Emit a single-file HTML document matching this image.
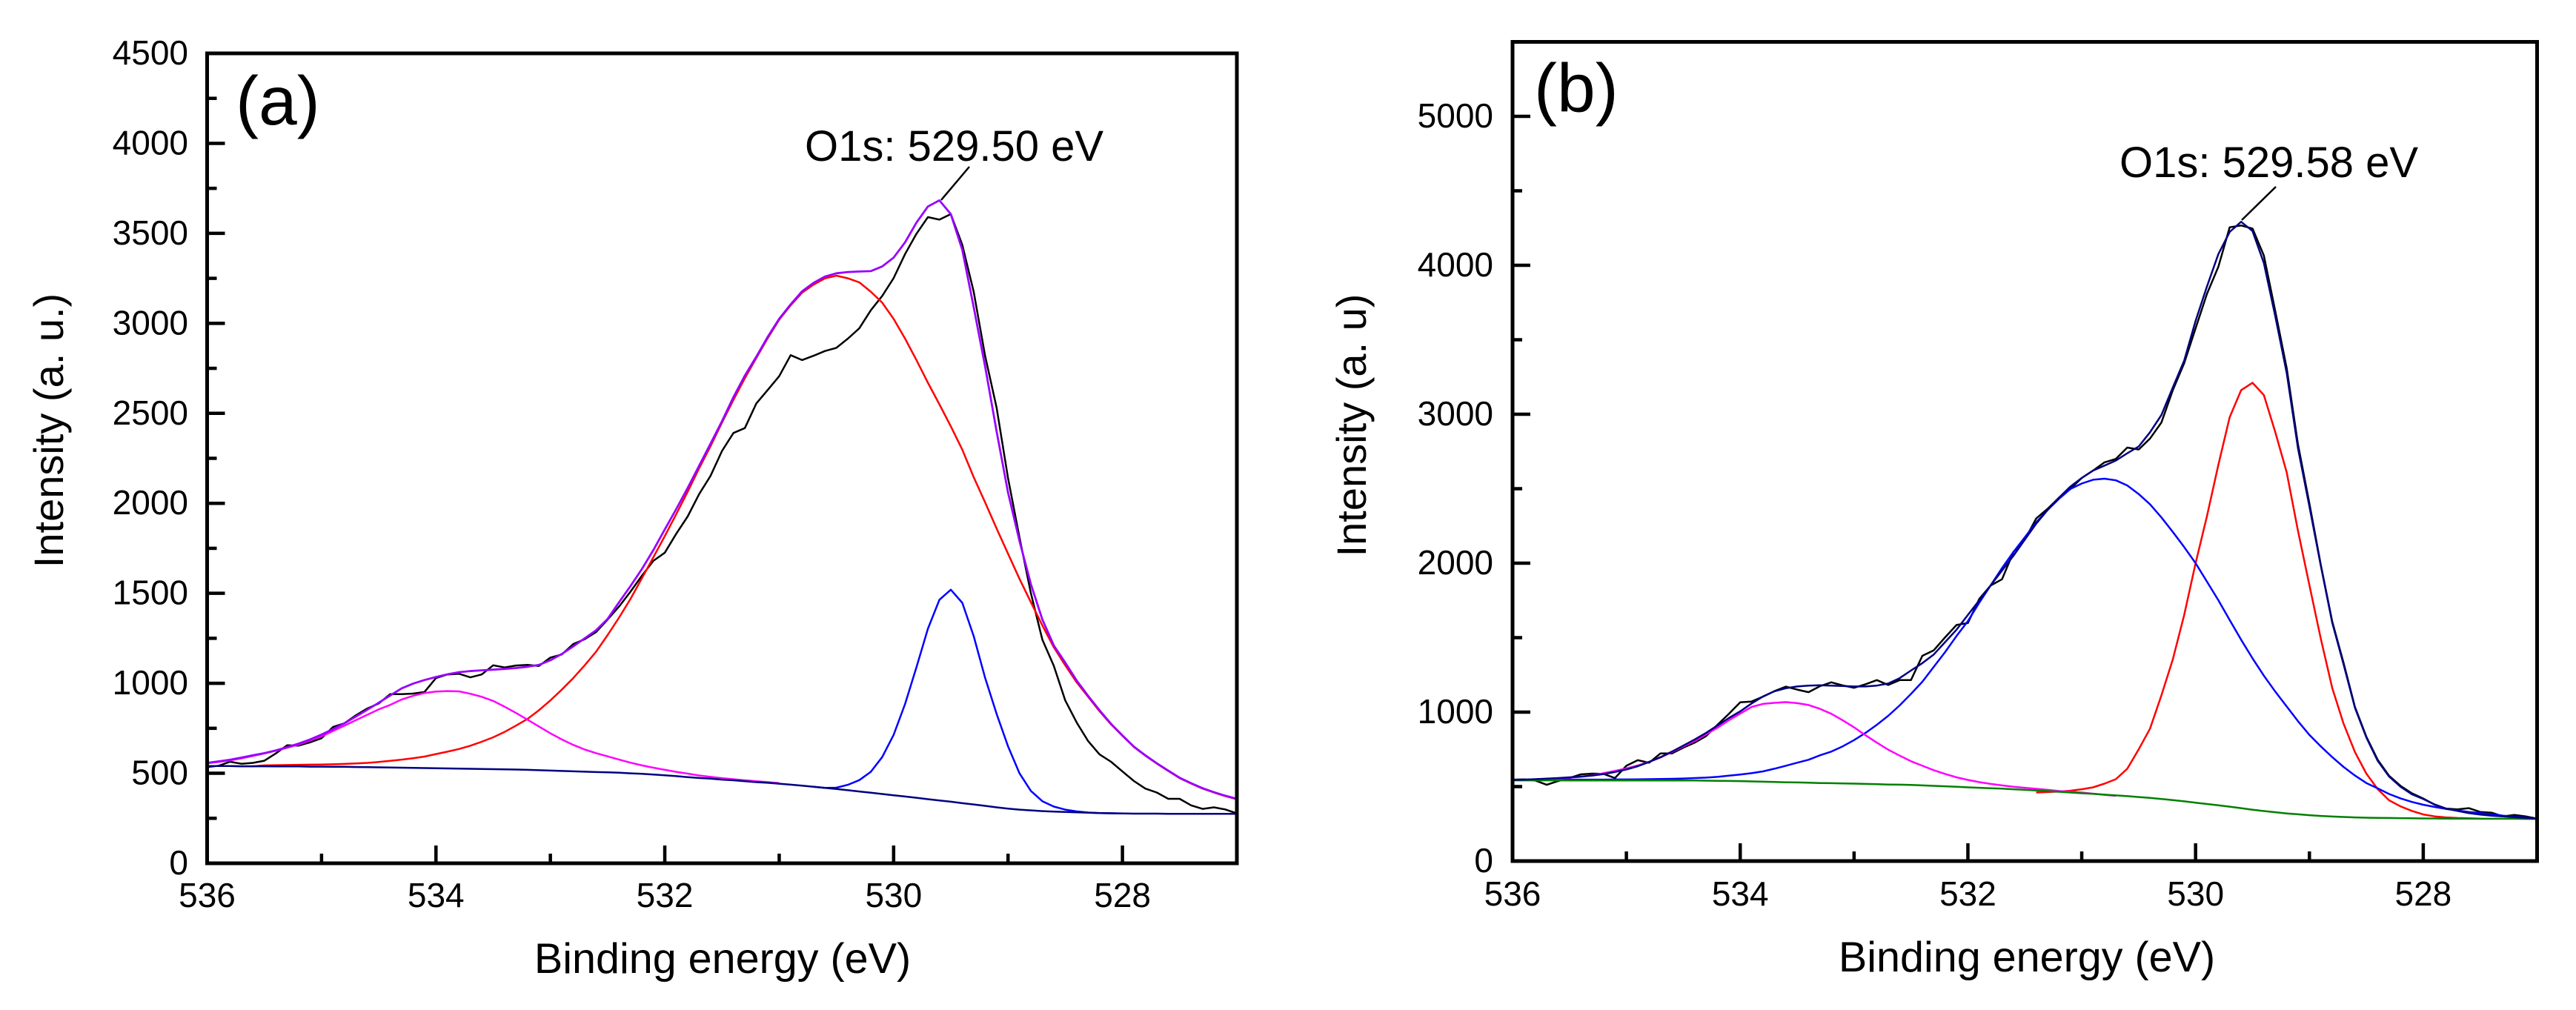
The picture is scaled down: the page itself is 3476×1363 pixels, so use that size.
<!DOCTYPE html>
<html lang="en">
<head>
<meta charset="utf-8">
<title>O1s XPS spectra</title>
<style>
html,body{margin:0;padding:0;background:#fff;width:3476px;height:1363px;overflow:hidden}
svg{display:block}
text{font-family:"Liberation Sans",Arial,sans-serif;fill:#000}
</style>
</head>
<body>
<svg id="figure" xmlns="http://www.w3.org/2000/svg" width="3476" height="1363" viewBox="0 0 3476 1363">
  <rect width="3476" height="1363" fill="#fff"/>
  <g id="panel-a">
    <text x="318" y="168" font-size="93">(a)</text>
    <text x="1086" y="217" font-size="58">O1s: 529.50 eV</text>
    <line x1="1308" y1="225" x2="1270" y2="270" stroke="#000" stroke-width="2.5"/>
    <text x="975" y="1313" font-size="57.5" text-anchor="middle">Binding energy (eV)</text>
    <text transform="translate(85 581) rotate(-90)" font-size="56" text-anchor="middle">Intensity (a. u.)</text>
  </g>
  <g id="panel-b">
    <text x="2070" y="151" font-size="93">(b)</text>
    <text x="2860" y="239" font-size="58">O1s: 529.58 eV</text>
    <line x1="3071" y1="252" x2="3025" y2="297" stroke="#000" stroke-width="2.5"/>
    <text x="2735" y="1311" font-size="57.5" text-anchor="middle">Binding energy (eV)</text>
    <text transform="translate(1843 574) rotate(-90)" font-size="56" text-anchor="middle">Intensity (a. u)</text>
  </g>
</svg>
<script>
// Shared binding-energy grid (eV)
const energy = [
536.0,535.9,535.8,535.7,535.6,535.5,535.4,535.3,535.2,535.1,
535.0,534.9,534.8,534.7,534.6,534.5,534.4,534.3,534.2,534.1,
534.0,533.9,533.8,533.7,533.6,533.5,533.4,533.3,533.2,533.1,
533.0,532.9,532.8,532.7,532.6,532.5,532.4,532.3,532.2,532.1,
532.0,531.9,531.8,531.7,531.6,531.5,531.4,531.3,531.2,531.1,
531.0,530.9,530.8,530.7,530.6,530.5,530.4,530.3,530.2,530.1,
530.0,529.9,529.8,529.7,529.6,529.5,529.4,529.3,529.2,529.1,
529.0,528.9,528.8,528.7,528.6,528.5,528.4,528.3,528.2,528.1,
528.0,527.9,527.8,527.7,527.6,527.5,527.4,527.3,527.2,527.1,
527.0];

// Tick labels
const xMajorTicks = [536,534,532,530,528];
const xMinorTicks = [535,533,531,529];
const yMajorTicksA = [0,500,1000,1500,2000,2500,3000,3500,4000,4500];
const yMinorTicksA = [250,750,1250,1750,2250,2750,3250,3750,4250];
const yMajorTicksB = [0,1000,2000,3000,4000,5000];
const yMinorTicksB = [500,1500,2500,3500,4500];

// Panel (a) series
const measuredA = [
535,542,564,553,558,570,610,656,654,672,
695,757,778,822,860,888,940,940,943,952,
1029,1049,1053,1033,1049,1100,1088,1099,1102,1096,
1143,1160,1218,1245,1285,1354,1426,1509,1598,1680,
1726,1831,1927,2051,2153,2291,2391,2418,2555,2630,
2706,2823,2796,2820,2846,2864,2915,2972,3072,3152,
3251,3385,3498,3590,3576,3607,3436,3175,2819,2531,
2140,1810,1500,1243,1097,905,782,679,605,564,
510,457,415,393,358,358,322,302,311,299,
277];
const envelopeA = [
558,566,575,587,600,612,627,645,665,688,
715,745,778,815,853,892,932,972,998,1018,
1035,1050,1062,1068,1072,1076,1080,1085,1092,1102,
1128,1163,1205,1250,1295,1358,1450,1540,1635,1740,
1855,1968,2085,2209,2332,2457,2590,2710,2815,2925,
3025,3105,3178,3225,3260,3278,3285,3288,3290,3316,
3365,3450,3560,3649,3683,3607,3408,3090,2760,2400,
2060,1790,1550,1355,1210,1115,1015,930,850,775,
710,648,600,556,515,475,445,417,395,375,
358];
const broadPeakA = [
540,540,540,539,539,544,545,546,547,548,
549,550,552,555,558,563,569,576,584,593,
607,620,635,653,675,700,730,765,802,850,
905,965,1029,1100,1176,1268,1365,1468,1584,1700,
1818,1940,2064,2195,2318,2449,2575,2695,2808,2918,
3020,3100,3170,3215,3250,3265,3250,3228,3176,3115,
3025,2915,2795,2670,2550,2428,2298,2145,2005,1860,
1720,1580,1450,1322,1200,1100,1005,925,845,772,
708,646,598,554,513,473,443,415,393,373,
356];
const highEnergyPeakA = [
556,563,572,583,596,610,625,642,660,682,
705,735,765,795,825,855,880,910,930,946,
954,957,955,942,925,902,870,835,798,760,
722,688,658,632,612,594,576,559,544,531,
519,508,498,488,480,473,467,461,456,451,
446];
const latticePeakStartA = 530.7;
const latticePeakA = [
425,419,420,436,462,508,590,
713,885,1090,1303,1464,1520,1447,1262,1030,830,
650,500,402,345,315,298,288,282,279,278,
277];
const baselineA = [
540,540,540,539,539,539,538,538,538,537,
537,536,536,535,534,533,532,531,530,529,
528,527,526,525,524,523,522,521,519,517,
515,513,511,509,507,505,503,500,497,493,
489,484,479,474,470,465,461,456,451,447,
442,437,431,425,419,413,406,399,392,385,
378,371,364,356,349,342,334,327,319,311,
304,298,294,290,287,285,283,281,279,278,
277,276,276,276,275,275,275,275,275,275,
275];

// Panel (b) series
const measuredB = [
547,549,541,512,537,557,582,587,585,557,
640,677,660,723,723,761,795,839,915,988,
1066,1071,1104,1141,1171,1151,1134,1174,1200,1179,
1163,1187,1215,1182,1215,1215,1378,1415,1502,1585,
1598,1760,1850,1892,2075,2158,2300,2365,2440,2498,
2572,2622,2677,2700,2776,2763,2837,2945,3161,3343,
3577,3808,3990,4255,4267,4247,4065,3692,3310,2796,
2400,1990,1610,1330,1035,835,680,572,505,455,
420,378,352,347,355,330,325,300,310,300,
285];
const envelopeB = [
545,547,550,553,557,562,567,574,584,598,
615,637,665,698,735,775,816,860,910,960,
1005,1058,1105,1140,1160,1172,1178,1180,1178,1175,
1172,1172,1178,1192,1228,1279,1329,1387,1470,1553,
1652,1751,1851,1950,2050,2158,2265,2357,2440,2514,
2572,2622,2655,2689,2738,2783,2879,2995,3179,3360,
3627,3857,4075,4224,4292,4230,4015,3658,3278,2770,
2380,1984,1602,1320,1030,830,673,567,499,449,
417,380,352,337,322,312,305,300,295,290,
285];
const broadPeakB = [
545,546,546,546,546,547,547,547,547,548,
548,549,550,551,552,554,557,560,565,573,
581,590,602,620,640,660,680,710,735,770,
812,860,915,975,1045,1122,1204,1304,1403,1511,
1611,1735,1851,1967,2075,2174,2274,2357,2432,2498,
2535,2560,2567,2556,2522,2464,2395,2307,2210,2108,
2000,1876,1751,1618,1486,1361,1245,1138,1038,939,
847,770,698,632,574,524,488,450,421,397,
378,363,350,340,330,322,315,305,298,292,
285];
const highEnergyPeakB = [
545,547,549,551,555,560,566,575,590,605,
622,642,667,695,732,770,806,850,895,945,
990,1035,1055,1062,1067,1060,1048,1022,989,945,
898,845,795,748,708,670,640,610,585,562,
545,530,518,508,499,492,485,478,470,465,
460,452,445,438];
const latticePeakStartB = 531.4;
const latticePeakB = [
460,463,466,472,
482,495,520,550,620,750,889,1113,1353,1652,
2000,2315,2660,2980,3161,3211,3129,2880,2610,2216,
1851,1494,1163,922,732,587,483,408,367,337,
313,300,293,289,287,285];
const baselineB = [
542,542,542,542,542,541,541,541,541,541,
541,541,541,541,541,541,541,540,539,538,
537,535,533,531,529,528,526,524,523,521,
520,518,516,514,513,511,508,505,502,499,
495,492,489,486,482,478,474,470,465,460,
455,451,446,441,436,430,424,417,409,401,
392,383,374,365,355,345,336,328,320,314,
308,303,299,296,293,291,290,289,288,287,
286,286,285,285,285,284,284,284,284,283,
283];

const NS = 'http://www.w3.org/2000/svg';

function svgEl(tag, attrs, parent) {
  const el = document.createElementNS(NS, tag);
  Object.keys(attrs).forEach(function (k) { el.setAttribute(k, attrs[k]); });
  parent.appendChild(el);
  return el;
}

function makeAxes(box, xDomain, yDomain) {
  return {
    x: function (e) { return box.left + (xDomain[0] - e) / (xDomain[0] - xDomain[1]) * (box.right - box.left); },
    y: function (v) { return box.bottom - (v - yDomain[0]) / (yDomain[1] - yDomain[0]) * (box.bottom - box.top); }
  };
}

function drawSeries(group, axes, es, values, color, width, name) {
  let pts = '';
  for (let i = 0; i < values.length && i < es.length; i++) {
    pts += axes.x(es[i]).toFixed(1) + ',' + axes.y(values[i]).toFixed(1) + ' ';
  }
  const el = svgEl('polyline', { points: pts, fill: 'none', stroke: color, 'stroke-width': width, 'stroke-linejoin': 'round' }, group);
  
  
}

function drawFrame(group, axes, box, opts) {
  const frame = svgEl('rect', { x: box.left, y: box.top, width: box.right - box.left, height: box.bottom - box.top, fill: 'none', stroke: '#000', 'stroke-width': 5 }, group);
  
  

  xMajorTicks.forEach(function (t) {
    const x = axes.x(t);
    const tick = svgEl('line', { x1: x, x2: x, y1: box.bottom, y2: box.bottom - 24, stroke: '#000', 'stroke-width': 4.5 }, group);
    
    
    const label = svgEl('text', { x: x, y: opts.xLabelY, 'font-size': 46, 'text-anchor': 'middle' }, group);
    
    
    label.textContent = t;
  });
  xMinorTicks.forEach(function (t) {
    const x = axes.x(t);
    const tick = svgEl('line', { x1: x, x2: x, y1: box.bottom, y2: box.bottom - 13, stroke: '#000', 'stroke-width': 4.5 }, group);
    
    
  });
  opts.yMajor.forEach(function (t) {
    const y = axes.y(t);
    const tick = svgEl('line', { x1: box.left, x2: box.left + 24, y1: y, y2: y, stroke: '#000', 'stroke-width': 4.5 }, group);
    
    
    const label = svgEl('text', { x: opts.yLabelX, y: y + 15, 'font-size': 46, 'text-anchor': 'end' }, group);
    
    
    label.textContent = t;
  });
  opts.yMinor.forEach(function (t) {
    const y = axes.y(t);
    const tick = svgEl('line', { x1: box.left, x2: box.left + 13, y1: y, y2: y, stroke: '#000', 'stroke-width': 4.5 }, group);
    
    
  });
}

const boxA = { left: 279.5, right: 1669, top: 72, bottom: 1165 };
const axesA = makeAxes(boxA, [536, 527], [0, 4500]);
const groupA = document.getElementById('panel-a');
drawSeries(groupA, axesA, energy, measuredA, '#000000', 2.5, 'measured-spectrum-a');
drawSeries(groupA, axesA, energy, broadPeakA, '#ff0000', 2.5, 'broad-peak-a');
drawSeries(groupA, axesA, energy.slice(energy.indexOf(latticePeakStartA)), latticePeakA, '#0000ff', 2.5, 'lattice-peak-a');
drawSeries(groupA, axesA, energy, highEnergyPeakA, '#ff00ff', 2.5, 'high-energy-peak-a');
drawSeries(groupA, axesA, energy, baselineA, '#000080', 2.5, 'baseline-a');
drawSeries(groupA, axesA, energy, envelopeA, '#9900ff', 2.8, 'fit-envelope-a');
drawFrame(groupA, axesA, boxA, { xLabelY: 1224, yLabelX: 254, yMajor: yMajorTicksA, yMinor: yMinorTicksA });

const boxB = { left: 2041, right: 3423.5, top: 56.5, bottom: 1162 };
const axesB = makeAxes(boxB, [536, 527], [0, 5500]);
const groupB = document.getElementById('panel-b');
drawSeries(groupB, axesB, energy, measuredB, '#000000', 2.5, 'measured-spectrum-b');
drawSeries(groupB, axesB, energy.slice(energy.indexOf(latticePeakStartB)), latticePeakB, '#ff0000', 2.5, 'lattice-peak-b');
drawSeries(groupB, axesB, energy, broadPeakB, '#0000ff', 2.5, 'broad-peak-b');
drawSeries(groupB, axesB, energy, highEnergyPeakB, '#ff00ff', 2.5, 'high-energy-peak-b');
drawSeries(groupB, axesB, energy, baselineB, '#008000', 2.5, 'baseline-b');
drawSeries(groupB, axesB, energy, envelopeB, '#000080', 2.5, 'fit-envelope-b');
drawFrame(groupB, axesB, boxB, { xLabelY: 1222, yLabelX: 2015, yMajor: yMajorTicksB, yMinor: yMinorTicksB });
</script>
</body>
</html>
